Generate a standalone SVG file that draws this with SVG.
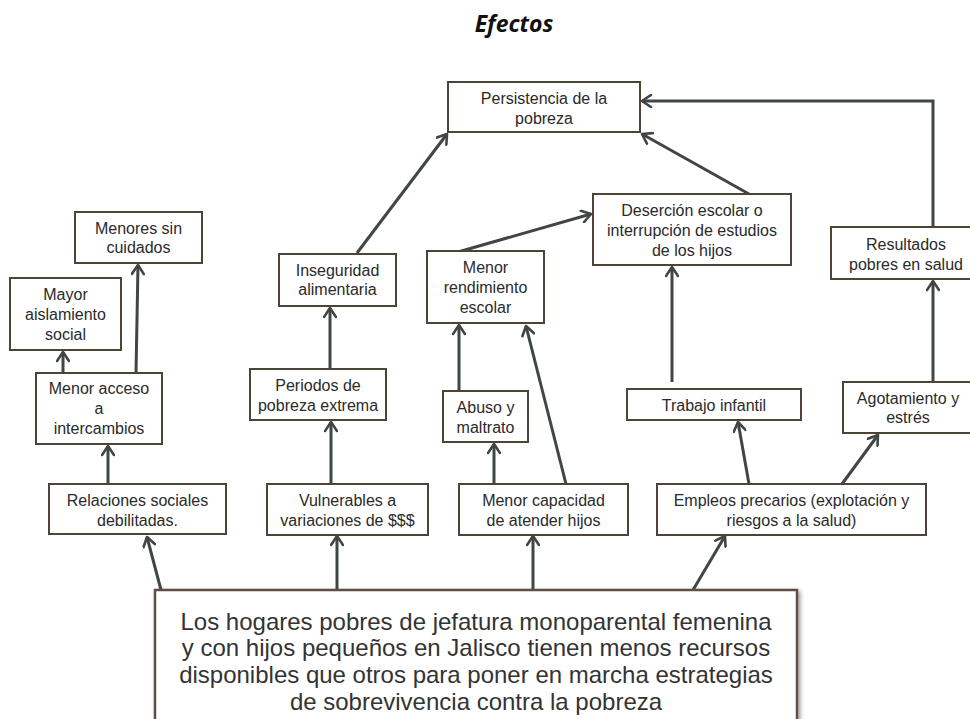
<svg xmlns="http://www.w3.org/2000/svg" width="970" height="719" viewBox="0 0 970 719">
<defs>
<marker id="ah" markerUnits="userSpaceOnUse" markerWidth="14" markerHeight="14" viewBox="0 0 14 14" refX="11" refY="7" orient="auto">
<path d="M2,1 L11,7 L2,13" fill="none" stroke="#3f4644" stroke-width="2.6" stroke-linecap="round" stroke-linejoin="round"/>
</marker>
<filter id="sh" x="-5%" y="-5%" width="110%" height="110%">
<feGaussianBlur in="SourceAlpha" stdDeviation="2"/>
<feOffset dx="2" dy="2"/>
<feComponentTransfer><feFuncA type="linear" slope="0.4"/></feComponentTransfer>
<feMerge><feMergeNode/><feMergeNode in="SourceGraphic"/></feMerge>
</filter>
</defs>
<style>
.box{fill:#fff;stroke:#4d4438;stroke-width:2}
.t{font-family:"Liberation Sans",Arial,sans-serif;font-size:16px;fill:#2a2a2a;text-anchor:middle}
.b{font-family:"Liberation Sans",Arial,sans-serif;font-size:24px;fill:#333;text-anchor:middle}
.c{fill:none;stroke:#3f4644;stroke-width:3;marker-end:url(#ah)}
</style>
<rect width="970" height="719" fill="#fff"/>
<text x="514" y="32" font-family="'Open Sans',sans-serif" font-size="23" font-weight="bold" font-style="italic" text-anchor="middle" fill="#111">Efectos</text>

<g id="connectors">
<path class="c" d="M161,590 L147,537"/>
<path class="c" d="M337,590 L337,536"/>
<path class="c" d="M533,590 L533,536"/>
<path class="c" d="M693,590 L725,536"/>
<path class="c" d="M108,484 L108,446"/>
<path class="c" d="M63,373 L63,352"/>
<path class="c" d="M136,373 L138,265"/>
<path class="c" d="M331,484 L331,422"/>
<path class="c" d="M330,369 L330,308"/>
<path class="c" d="M357,253 L447,134"/>
<path class="c" d="M458,252 L591,214"/>
<path class="c" d="M459,391 L459,325"/>
<path class="c" d="M566,484 L526,326"/>
<path class="c" d="M494,484 L494,444"/>
<path class="c" d="M672,382 L672,267"/>
<path class="c" d="M749,194 L642,134"/>
<path class="c" d="M933,227 L933,101 L642,101"/>
<path class="c" d="M933,382 L933,281"/>
<path class="c" d="M749,484 L738,422"/>
<path class="c" d="M842,484 L878,435"/>
</g>

<g id="persistencia"><rect class="box" x="448" y="82" width="192" height="50"/>
<text class="t" x="544" y="104">Persistencia de la</text><text class="t" x="544" y="124">pobreza</text></g>

<g id="inseguridad"><rect class="box" x="279" y="254" width="117" height="52"/>
<text class="t" x="337.5" y="276">Inseguridad</text><text class="t" x="337.5" y="295">alimentaria</text></g>

<g id="rendimiento"><rect class="box" x="427" y="251" width="117" height="72"/>
<text class="t" x="485.5" y="273">Menor</text><text class="t" x="485.5" y="293">rendimiento</text><text class="t" x="485.5" y="313">escolar</text></g>

<g id="desercion"><rect class="box" x="593" y="194" width="198" height="71"/>
<text class="t" x="692" y="216">Deserción escolar o</text><text class="t" x="692" y="236">interrupción de estudios</text><text class="t" x="692" y="256">de los hijos</text></g>

<g id="resultados"><rect class="box" x="831" y="227" width="150" height="52"/>
<text class="t" x="906" y="250">Resultados</text><text class="t" x="906" y="270">pobres en salud</text></g>

<g id="trabajo"><rect class="box" x="627" y="389" width="174" height="31"/>
<text class="t" x="714" y="411">Trabajo infantil</text></g>

<g id="agotamiento"><rect class="box" x="843" y="382" width="140" height="51"/>
<text class="t" x="908" y="404">Agotamiento y</text><text class="t" x="908" y="423">estrés</text></g>

<g id="menores"><rect class="box" x="75" y="212" width="127" height="51"/>
<text class="t" x="138.5" y="234">Menores sin</text><text class="t" x="138.5" y="253">cuidados</text></g>

<g id="aislamiento"><rect class="box" x="10" y="278" width="111" height="72"/>
<text class="t" x="65.5" y="300">Mayor</text><text class="t" x="65.5" y="320">aislamiento</text><text class="t" x="65.5" y="340">social</text></g>

<g id="acceso"><rect class="box" x="36" y="373" width="126" height="71"/>
<text class="t" x="99" y="394">Menor acceso</text><text class="t" x="99" y="414">a</text><text class="t" x="99" y="434">intercambios</text></g>

<g id="relaciones"><rect class="box" x="49" y="484" width="177" height="50"/>
<text class="t" x="137.5" y="506">Relaciones sociales</text><text class="t" x="137.5" y="526">debilitadas.</text></g>

<g id="periodos"><rect class="box" x="250" y="369" width="136" height="51"/>
<text class="t" x="318" y="391">Periodos de</text><text class="t" x="318" y="411">pobreza extrema</text></g>

<g id="vulnerables"><rect class="box" x="267" y="484" width="161" height="51"/>
<text class="t" x="347.5" y="506">Vulnerables a</text><text class="t" x="347.5" y="526">variaciones de $$$</text></g>

<g id="abuso"><rect class="box" x="443" y="391" width="85" height="51"/>
<text class="t" x="485.5" y="413">Abuso y</text><text class="t" x="485.5" y="433">maltrato</text></g>

<g id="capacidad"><rect class="box" x="459" y="484" width="169" height="51"/>
<text class="t" x="543.5" y="506">Menor capacidad</text><text class="t" x="543.5" y="526">de atender hijos</text></g>

<g id="empleos"><rect class="box" x="657" y="484" width="269" height="51"/>
<text class="t" x="791.5" y="506">Empleos precarios (explotación y</text><text class="t" x="791.5" y="526">riesgos a la salud)</text></g>

<g id="hogares"><rect x="155" y="590" width="642" height="140" fill="#fff" stroke="#5b5045" stroke-width="2.5" filter="url(#sh)"/>
<text class="b" x="476" y="630">Los hogares pobres de jefatura monoparental femenina</text>
<text class="b" x="476" y="656">y con hijos pequeños en Jalisco tienen menos recursos</text>
<text class="b" x="476" y="683">disponibles que otros para poner en marcha estrategias</text>
<text class="b" x="476" y="710">de sobrevivencia contra la pobreza</text></g>
</svg>
